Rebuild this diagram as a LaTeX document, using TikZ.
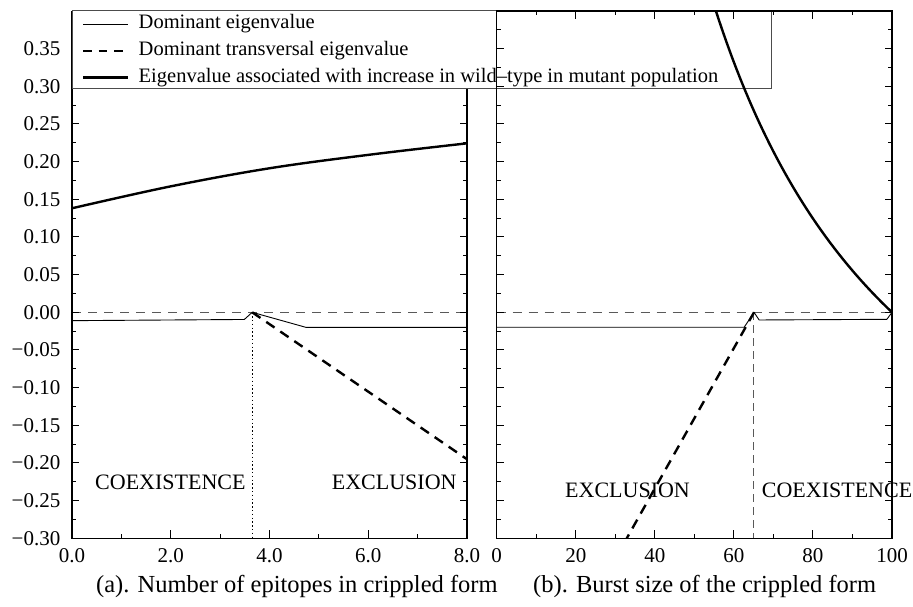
\documentclass[tikz,border=0pt]{standalone}
\usepackage{fontspec}
\setmainfont{Liberation Serif}
\definecolor{zgray}{gray}{0.35}
\definecolor{fgray}{gray}{0.3}
\begin{document}
\begin{tikzpicture}[x=1pt,y=-1pt,
  thinline/.style={line width=0.9pt,line join=round},
  thickline/.style={line width=2.4pt,line join=round},
  thickdash/.style={line width=2.4pt,dash pattern=on 10pt off 7pt},
  zeroline/.style={line width=0.9pt,draw=zgray,dash pattern=on 9pt off 7pt},
  dotline/.style={line width=0.9pt,dash pattern=on 1.5pt off 2.3pt},
  vdash/.style={line width=0.9pt,draw=zgray,dash pattern=on 8pt off 5pt},
  axisline/.style={line width=1.2pt},
  tickline/.style={line width=1pt},
  ticklab/.style={inner sep=0pt,font=\fontsize{21}{25}\selectfont},
  regionlab/.style={inner sep=0pt,anchor=west,font=\fontsize{22}{26}\selectfont},
  captionlab/.style={inner sep=0pt,anchor=west,font=\fontsize{24.5}{29}\selectfont},
  legtext/.style={inner sep=0pt,anchor=west,font=\fontsize{20.5}{24}\selectfont},
  legframe/.style={line width=0.9pt,draw=fgray,fill=white}]
\useasboundingbox (0,0) rectangle (913,606);

% ---------------- left panel ----------------
\begin{scope}[shift={(72,312.3)},x=49.375pt,y=753.3pt]
  \draw[zeroline] (0,0) -- (8,0);
  \draw[dotline] (3.65,0) -- (3.65,-0.3);
  \draw[thinline] (0,-0.0111) -- (3.49,-0.0095) -- (3.65,0) -- (4.74,-0.02) -- (8,-0.02);
  \draw[thickdash] (3.65,0) -- (8,-0.195);
  \draw[thickline] plot[smooth,tension=0.6] coordinates {(0,0.1381) (2,0.1672) (4,0.1912) (6,0.2090) (8,0.2243)};
  % axes
  \draw[axisline] (0,0.4) -- (0,-0.3) -- (8,-0.3) -- (8,0.4);
  \foreach \i in {-6,...,8} {
    \draw[tickline] (0,{\i*0.05}) -- ++(7pt,0);
    \draw[tickline] (8,{\i*0.05}) -- ++(-7pt,0);
  }
  \foreach \i in {-6,...,7} {
    \draw[tickline] (0,{\i*0.05+0.025}) -- ++(4pt,0);
    \draw[tickline] (8,{\i*0.05+0.025}) -- ++(-4pt,0);
  }
  \foreach \v in {0,2,4,6,8} \draw[tickline] (\v,-0.3) -- ++(0,8pt);
  \foreach \v in {1,3,5,7} \draw[tickline] (\v,-0.3) -- ++(0,4.5pt);
  \foreach \i/\t in {-6/−0.30,-5/−0.25,-4/−0.20,-3/−0.15,-2/−0.10,-1/−0.05,0/0.00,1/0.05,2/0.10,3/0.15,4/0.20,5/0.25,6/0.30,7/0.35}
    \node[ticklab,anchor=east] (yl\i) at (0,{\i*0.05}) [xshift=-11.5pt] {\t};
  \foreach \v/\t in {0/0.0,2/2.0,4/4.0,6/6.0,8/8.0}
    \node[ticklab] (xl\v) at (\v,-0.3) [yshift=-17.7pt] {\t};
\end{scope}
\node[regionlab] (coexA) at (95,482.7) {COEXISTENCE};
\node[regionlab] (exclA) at (331.7,482.7) {EXCLUSION};
\node[captionlab] (capA) at (96,586) {(a). Number of epitopes in crippled form};

% ---------------- legend ----------------
\draw[legframe] (72,10.7) rectangle (771,88.3);
\draw[thinline] (83,24) -- (128,24);
\draw[thickdash,dash pattern=on 8.5pt off 7pt] (83,51) -- (128,51);
\draw[thickline] (83,77.3) -- (128,77.3);
\node[legtext] (lg1) at (138.5,24) {Dominant eigenvalue};
\node[legtext] (lg2) at (138.5,51) {Dominant transversal eigenvalue};
\node[legtext] (lg3) at (138.5,77.3) {Eigenvalue associated with increase in wild–type in mutant population};

% ---------------- right panel ----------------
\begin{scope}[shift={(496.7,312.3)},x=3.953pt,y=753.3pt]
  \draw[zeroline] (0,0) -- (100,0);
  \draw[vdash] (65,0) -- (65,-0.3);
  \draw[thinline] (0,-0.0199) -- (62.6,-0.0199) -- (65.1,0) -- (66.4,-0.0102) -- (98.7,-0.0093) -- (100,0);
  \draw[thickdash] (65.1,0) -- (32.9,-0.3);
  \draw[thickline] plot[domain=55.46:100,samples=60] (\x,{0.498*(100/\x-1)});
  % axes
  \draw[axisline] (0,-0.3) rectangle (100,0.4);
  \foreach \i in {-6,...,8} {
    \draw[tickline] (0,{\i*0.05}) -- ++(7pt,0);
    \draw[tickline] (100,{\i*0.05}) -- ++(-7pt,0);
  }
  \foreach \i in {-6,...,7} {
    \draw[tickline] (0,{\i*0.05+0.025}) -- ++(4pt,0);
    \draw[tickline] (100,{\i*0.05+0.025}) -- ++(-4pt,0);
  }
  \foreach \v in {0,20,...,100} {
    \draw[tickline] (\v,-0.3) -- ++(0,8pt);
    \draw[tickline] (\v,0.4) -- ++(0,-8pt);
  }
  \foreach \v in {10,30,...,90} {
    \draw[tickline] (\v,-0.3) -- ++(0,4.5pt);
    \draw[tickline] (\v,0.4) -- ++(0,-4.5pt);
  }
  \foreach \v in {0,20,40,60,80,100}
    \node[ticklab] (xr\v) at (\v,-0.3) [yshift=-17.7pt] {\v};
\end{scope}
\node[regionlab] (exclB) at (565,490) {EXCLUSION};
\node[regionlab] (coexB) at (761.7,490) {COEXISTENCE};
\node[captionlab] (capB) at (533,586) {(b). Burst size of the crippled form};
\end{tikzpicture}
\end{document}
